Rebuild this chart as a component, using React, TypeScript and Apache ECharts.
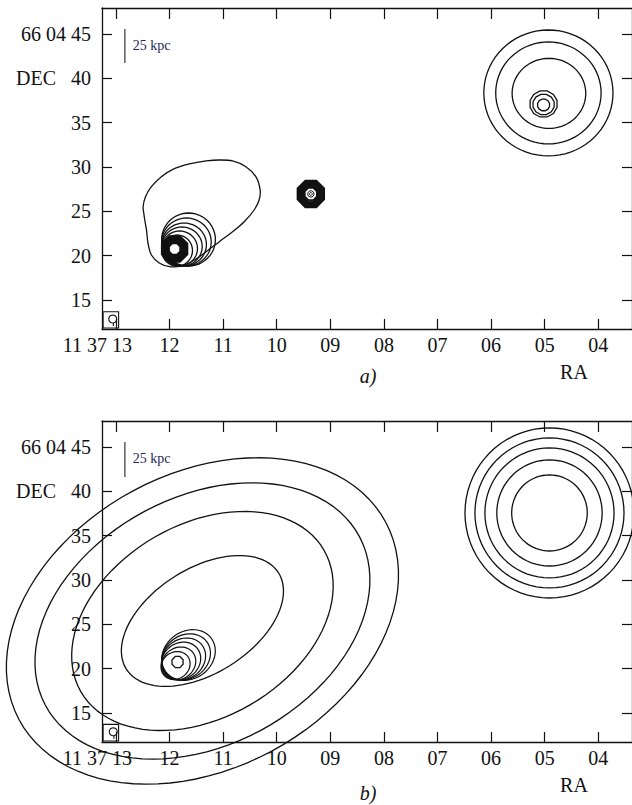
import React, { useEffect, useRef } from "react";
import * as echarts from "echarts";

// ---- axes ----
const raTicks = [4, 5, 6, 7, 8, 9, 10, 11, 12, 13];
const decTicks = [15, 20, 25, 30, 35, 40, 45];
const RA_MIN = 3.37;
const RA_MAX = 13.26;
const DEC_MIN = 11.73;
const DEC_MAX = 47.93;

// arcsec per second of RA at DEC 66 04
const K = 15 * Math.cos(((66 + 4 / 60 + 45 / 3600) * Math.PI) / 180);

// ---- contours: [RA s, DEC ", semi-axis a ", semi-axis b ", angle deg, sides] ----
// panel a
const aGal3: number[][] = [
  [4.93, 38.35, 7.33, 7.1, 0, 72],
  [4.93, 38.35, 5.98, 5.75, 0, 72],
  [4.92, 38.3, 4.18, 3.95, 0, 72],
  [5.02, 37.11, 1.58, 1.52, 0, 12],
  [5.02, 37.05, 1.24, 1.18, 0, 12],
  [5.02, 37.0, 0.7, 0.68, 0, 12],
];
const aGal1Nested: number[][] = [
  [11.645, 21.82, 3.05, 2.99, 0, 48],
  [11.684, 21.54, 2.81, 2.71, 0, 48],
  [11.729, 21.26, 2.54, 2.42, 0, 48],
  [11.768, 21.03, 2.3, 2.2, 0, 48],
  [11.812, 20.81, 2.03, 1.97, 0, 48],
  [11.859, 20.58, 1.75, 1.75, 0, 48],
];
const aGal1Core: number[][] = [
  [11.905, 20.75, 1.58, 1.58, 0, 8],
  [11.905, 20.75, 1.47, 1.47, 0, 8],
  [11.905, 20.75, 1.36, 1.36, 0, 8],
  [11.905, 20.75, 1.24, 1.24, 0, 8],
  [11.905, 20.75, 1.13, 1.13, 0, 8],
  [11.905, 20.75, 1.02, 1.02, 0, 8],
  [11.905, 20.75, 0.9, 0.9, 0, 8],
  [11.905, 20.75, 0.79, 0.79, 0, 8],
  [11.905, 20.75, 0.68, 0.68, 0, 8],
];
const aGal2Core: number[][] = [
  [9.363, 26.96, 1.64, 1.64, 0, 8],
  [9.363, 26.96, 1.51, 1.51, 0, 8],
  [9.363, 26.96, 1.38, 1.38, 0, 8],
  [9.363, 26.96, 1.25, 1.25, 0, 8],
  [9.363, 26.96, 1.12, 1.12, 0, 8],
  [9.363, 26.96, 0.99, 0.99, 0, 8],
  [9.363, 26.96, 0.86, 0.86, 0, 8],
  [9.363, 26.96, 0.74, 0.74, 0, 8],
];
const aGal2Inner: number[][] = [
  [9.363, 26.96, 0.36, 0.36, 0, 12],
  [9.363, 26.96, 0.16, 0.16, 0, 8],
];
const aEnvelopeRA = [
  12.48, 12.493, 12.449, 12.338, 12.152, 11.937, 11.627, 11.317, 11.07, 10.823, 10.575, 10.389, 10.309, 10.328,
  10.421, 10.606, 10.823, 11.07, 11.317, 11.534, 11.781, 11.998, 12.184, 12.338, 12.401, 12.43, 12.462,
];
const aEnvelopeDEC = [
  24.78, 25.52, 26.65, 27.78, 28.91, 29.74, 30.34, 30.68, 30.79, 30.68, 30.03, 28.91, 27.41, 26.28, 25.15, 23.83,
  22.7, 21.58, 20.45, 19.51, 18.84, 18.76, 19.14, 20.08, 21.4, 22.9, 24.02,
];

// panel b
const bBig: number[][] = [
  [11.386, 25.38, 23.6, 16.65, 28, 96],
  [11.386, 25.38, 20.2, 14.0, 28, 96],
  [11.386, 25.38, 15.94, 10.9, 30, 96],
  [11.386, 25.38, 10.2, 5.92, 32, 96],
];
const bGal3: number[][] = [
  [4.91, 37.56, 9.59, 9.59, 0, 72],
  [4.91, 37.56, 8.46, 8.46, 0, 72],
  [4.91, 37.56, 7.33, 7.33, 0, 72],
  [4.91, 37.56, 5.98, 5.98, 0, 72],
  [4.91, 37.56, 4.29, 4.29, 0, 72],
];
const bGal1Nested: number[][] = [
  [11.645, 21.54, 3.2, 2.68, 35, 48],
  [11.692, 21.32, 2.92, 2.45, 35, 48],
  [11.738, 21.09, 2.62, 2.24, 35, 48],
  [11.785, 20.87, 2.33, 2.02, 35, 48],
  [11.831, 20.59, 2.04, 1.76, 35, 48],
  [11.887, 20.36, 1.72, 1.5, 35, 48],
];
const bGal1Core: number[][] = [[11.85, 20.75, 0.68, 0.68, 0, 8]];

// beam box: [RA left, DEC bottom, RA right, DEC top, beam RA, beam DEC, beam radius "]
const beamA = [13.24, 11.84, 12.95, 13.68, 13.06, 12.86, 0.45];
const beamB = [13.24, 11.84, 12.95, 13.72, 13.05, 12.89, 0.45];
// scale bar: [RA, DEC top, DEC bottom, label RA, label DEC]
const barA = [12.833, 45.56, 41.73, 12.685, 43.65];
const barB = [12.833, 45.56, 41.62, 12.685, 43.65];

const FONT = "Liberation Serif";
const INK = "#111";

function skyPoint(api: any, ra: number, dec: number, dx: number, dy: number) {
  return api.coord([ra - dx / K, dec + dy]);
}

function ellipsePoints(api: any, ra: number, dec: number, a: number, b: number, angDeg: number, n: number) {
  const ang = (angDeg * Math.PI) / 180;
  const off = n <= 12 ? Math.PI / n : 0;
  const pts: number[][] = [];
  for (let i = 0; i < n; i++) {
    const t = off + (2 * Math.PI * i) / n;
    const ex = a * Math.cos(t);
    const ey = b * Math.sin(t);
    const dx = ex * Math.cos(ang) - ey * Math.sin(ang);
    const dy = ex * Math.sin(ang) + ey * Math.cos(ang);
    pts.push(skyPoint(api, ra, dec, dx, dy));
  }
  return pts;
}

function ellipseSeries(data: number[][], panel: number, lw: number) {
  return {
    type: "custom",
    xAxisIndex: panel * 2,
    yAxisIndex: panel * 2,
    clip: false,
    silent: true,
    z: 5,
    data,
    encode: { x: 0, y: 1 },
    renderItem: (_p: any, api: any) => ({
      type: "polygon",
      shape: {
        points: ellipsePoints(api, api.value(0), api.value(1), api.value(2), api.value(3), api.value(4), api.value(5)),
      },
      style: { fill: "none", stroke: INK, lineWidth: lw },
    }),
  };
}

function envelopeSeries(ras: number[], decs: number[], panel: number) {
  return {
    type: "custom",
    xAxisIndex: panel * 2,
    yAxisIndex: panel * 2,
    clip: false,
    silent: true,
    z: 5,
    data: [[ras[0], decs[0]]],
    encode: { x: 0, y: 1 },
    renderItem: (_p: any, api: any) => ({
      type: "polygon",
      shape: { points: ras.map((r, i) => api.coord([r, decs[i]])), smooth: 0.35 },
      style: { fill: "none", stroke: INK, lineWidth: 1.3 },
    }),
  };
}

function beamSeries(bm: number[], panel: number) {
  return {
    type: "custom",
    xAxisIndex: panel * 2,
    yAxisIndex: panel * 2,
    clip: false,
    silent: true,
    z: 5,
    data: [bm],
    encode: { x: 0, y: 1 },
    renderItem: (_p: any, api: any) => {
      const v = (i: number) => api.value(i);
      const p1 = api.coord([v(0), v(1)]);
      const p2 = api.coord([v(2), v(3)]);
      const circ = ellipsePoints(api, v(4), v(5), v(6), v(6), 0, 20);
      const bottom = api.coord([v(4) - 0.012, v(5) - v(6)]);
      const stem = api.coord([v(4) - 0.012, v(5) - v(6) - 0.35]);
      return {
        type: "group",
        children: [
          {
            type: "rect",
            shape: { x: Math.min(p1[0], p2[0]), y: Math.min(p1[1], p2[1]), width: Math.abs(p2[0] - p1[0]), height: Math.abs(p2[1] - p1[1]) },
            style: { fill: "none", stroke: INK, lineWidth: 1.1 },
          },
          { type: "polygon", shape: { points: circ }, style: { fill: "none", stroke: INK, lineWidth: 1.1 } },
          { type: "line", shape: { x1: bottom[0], y1: bottom[1], x2: stem[0], y2: stem[1] }, style: { stroke: INK, lineWidth: 1.1 } },
        ],
      };
    },
  };
}

function barSeries(bar: number[], panel: number) {
  return {
    type: "custom",
    xAxisIndex: panel * 2,
    yAxisIndex: panel * 2,
    clip: false,
    silent: true,
    z: 5,
    data: [bar],
    encode: { x: 0, y: 1 },
    renderItem: (_p: any, api: any) => {
      const t = api.coord([api.value(0), api.value(1)]);
      const b = api.coord([api.value(0), api.value(2)]);
      const l = api.coord([api.value(3), api.value(4)]);
      return {
        type: "group",
        children: [
          { type: "line", shape: { x1: t[0], y1: t[1], x2: b[0], y2: b[1] }, style: { stroke: "#333", lineWidth: 1.2 } },
          {
            type: "text",
            style: {
              text: "25 kpc",
              x: l[0],
              y: l[1],
              fill: "#26265a",
              fontSize: 14,
              fontFamily: FONT,
              align: "left",
              verticalAlign: "middle",
            },
          },
        ],
      };
    },
  };
}

const fmtRA = (v: number) => (v === 13 ? "{r|11 37 13}" : v < 10 ? "0" + v : String(v));
const fmtDEC = (v: number) => (v === 45 ? "66 04 45" : v === 40 ? "{d|DEC}{n|40}" : String(v));

function axesFor(grid: number) {
  const line = { show: true, onZero: false, lineStyle: { color: INK, width: 1.3 } };
  const xTick = { show: true, inside: true, length: 10, customValues: raTicks, lineStyle: { color: INK, width: 1.2 } };
  const yTick = { show: true, inside: true, length: 10, customValues: decTicks, lineStyle: { color: INK, width: 1.2 } };
  const label = { fontSize: 20, fontFamily: FONT, color: INK };
  const x = [
    {
      type: "value",
      gridIndex: grid,
      position: "bottom",
      inverse: true,
      min: RA_MIN,
      max: RA_MAX,
      splitLine: { show: false },
      axisLine: line,
      axisTick: xTick,
      axisLabel: {
        ...label,
        customValues: raTicks,
        margin: 6,
        showMinLabel: true,
        showMaxLabel: true,
        formatter: fmtRA,
        rich: { r: { ...label, padding: [0, 37, 0, 0] } },
      },
    },
    {
      type: "value",
      gridIndex: grid,
      position: "top",
      inverse: true,
      min: RA_MIN,
      max: RA_MAX,
      splitLine: { show: false },
      axisLine: line,
      axisTick: { ...xTick, length: 11 },
      axisLabel: { show: false },
    },
  ];
  const y = [
    {
      type: "value",
      gridIndex: grid,
      position: "left",
      min: DEC_MIN,
      max: DEC_MAX,
      splitLine: { show: false },
      axisLine: line,
      axisTick: yTick,
      axisLabel: {
        ...label,
        customValues: decTicks,
        margin: 11,
        showMinLabel: true,
        showMaxLabel: true,
        formatter: fmtDEC,
        rich: { d: { ...label, padding: [0, 15, 0, 0] }, n: { ...label } },
      },
    },
    {
      type: "value",
      gridIndex: grid,
      position: "right",
      min: DEC_MIN,
      max: DEC_MAX,
      splitLine: { show: false },
      axisLine: line,
      axisTick: yTick,
      axisLabel: { show: false },
    },
  ];
  return { x, y };
}

export default function App() {
  const ref = useRef<HTMLDivElement>(null);
  useEffect(() => {
    document.body.style.margin = "0";
    if (!ref.current) return;
    const chart = echarts.init(ref.current, undefined, { renderer: "svg" });
    const a = axesFor(0);
    const b = axesFor(1);
    const txt = (text: string, x: number, y: number, align: string, extra: any = {}) => ({
      type: "text",
      x,
      y,
      silent: true,
      style: { text, fontSize: 20, fontFamily: FONT, fill: INK, align, verticalAlign: "middle", ...extra },
    });
    chart.setOption({
      animation: false,
      backgroundColor: "#fff",
      grid: [
        { left: 102, top: 8, width: 533, height: 321 },
        { left: 102, top: 421, width: 533, height: 321 },
      ],
      xAxis: [...a.x, ...b.x],
      yAxis: [...a.y, ...b.y],
      graphic: [
        txt("RA", 574, 372, "center"),
        txt("a)", 368, 376, "center", { fontStyle: "italic" }),
        txt("RA", 574, 785, "center"),
        txt("b)", 368, 793, "center", { fontStyle: "italic" }),
      ],
      series: [
        envelopeSeries(aEnvelopeRA, aEnvelopeDEC, 0),
        ellipseSeries(aGal3, 0, 1.3),
        ellipseSeries(aGal1Nested, 0, 1.3),
        ellipseSeries(aGal1Core, 0, 1.7),
        ellipseSeries(aGal2Core, 0, 1.7),
        ellipseSeries(aGal2Inner, 0, 1.0),
        beamSeries(beamA, 0),
        barSeries(barA, 0),
        ellipseSeries(bBig, 1, 1.3),
        ellipseSeries(bGal3, 1, 1.3),
        ellipseSeries(bGal1Nested, 1, 1.2),
        ellipseSeries(bGal1Core, 1, 1.3),
        beamSeries(beamB, 1),
        barSeries(barB, 1),
      ],
    });
    return () => chart.dispose();
  }, []);
  return <div ref={ref} style={{ width: 632, height: 805 }} />;
}
